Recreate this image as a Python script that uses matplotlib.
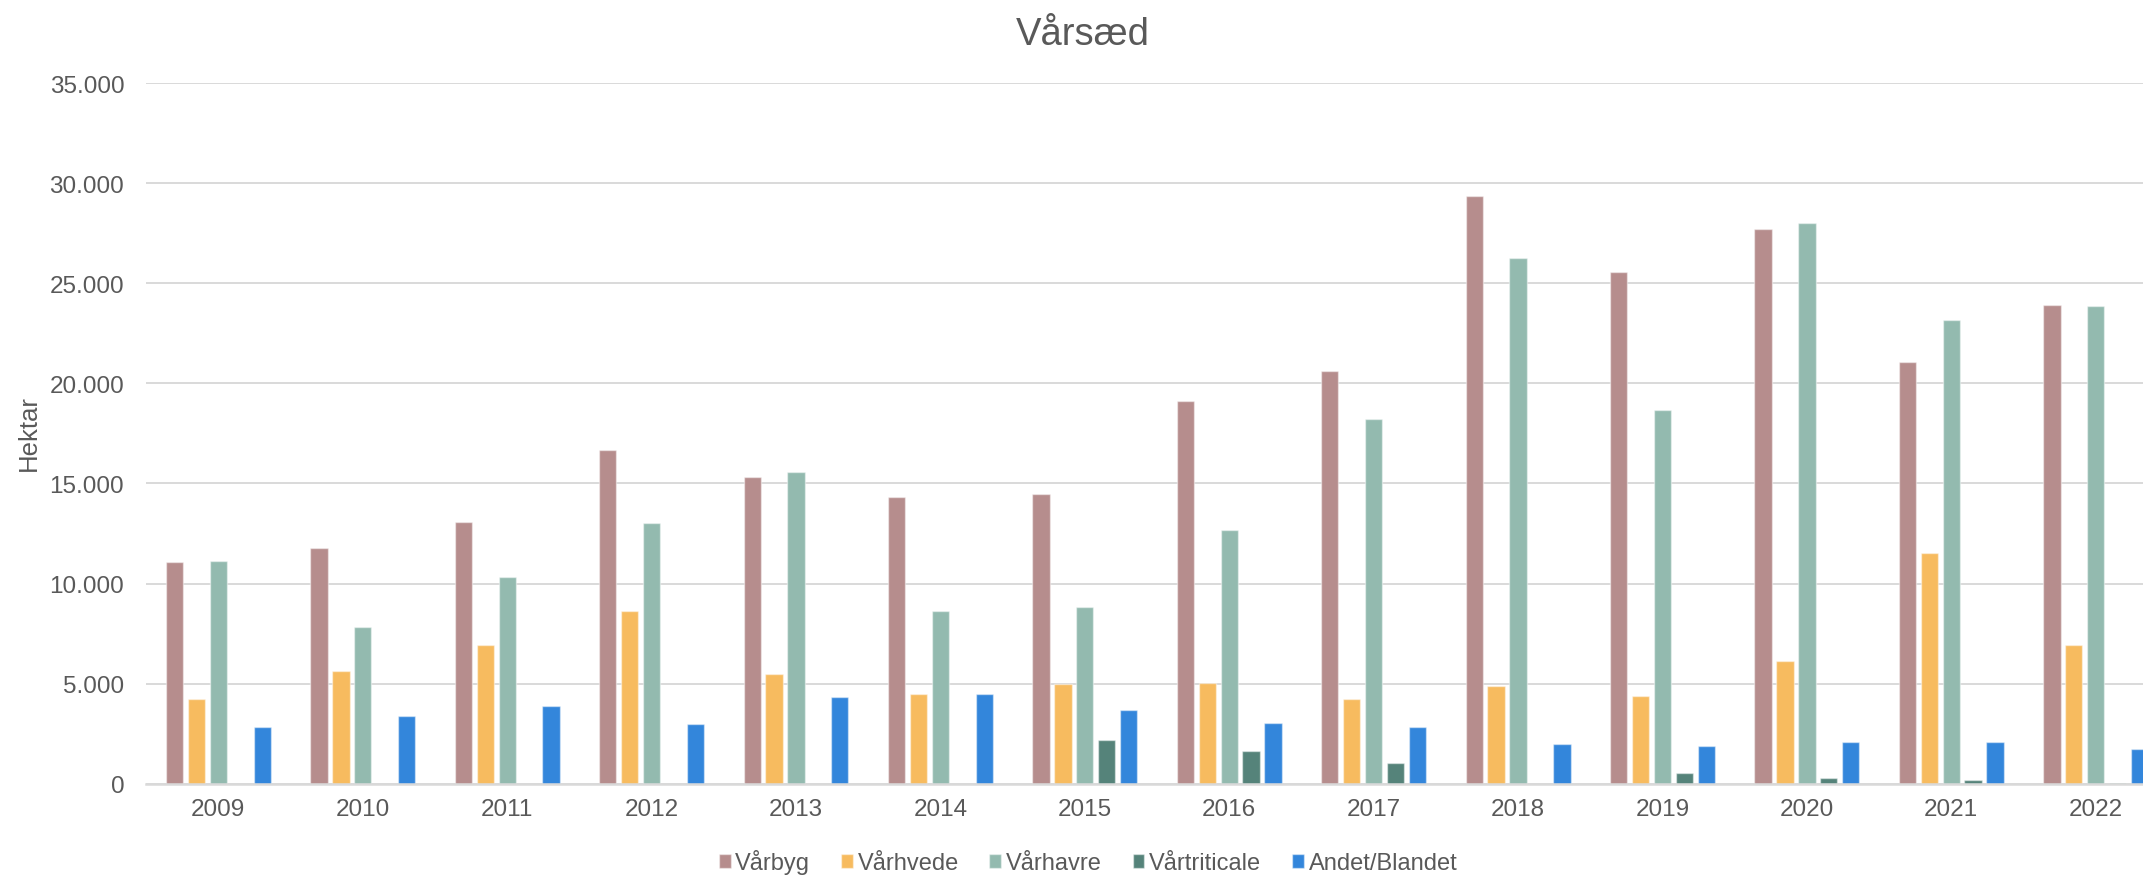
import numpy as np
import matplotlib.pyplot as plt
from matplotlib.ticker import FuncFormatter

plt.rcParams['font.family'] = ['Liberation Sans', 'DejaVu Sans']

years = ["2009", "2010", "2011", "2012", "2013", "2014", "2015",
         "2016", "2017", "2018", "2019", "2020", "2021", "2022"]

# Hektar per afgrøde
vaarbyg = [11090, 11790, 13100, 16690, 15340, 14310, 14480,
           19120, 20640, 29370, 25560, 27720, 21060, 23940]
vaarhvede = [4230, 5630, 6920, 8620, 5490, 4480, 4960,
             5010, 4230, 4900, 4370, 6130, 11540, 6920]
vaarhavre = [11110, 7810, 10330, 13050, 15570, 8650, 8820,
             12660, 18230, 26260, 18680, 28000, 23180, 23860]
vaartriticale = [0, 0, 0, 0, 0, 0, 2210,
                 1650, 1060, 0, 560, 280, 200, 50]
andet = [2860, 3390, 3890, 2970, 4340, 4480, 3700,
         3050, 2820, 1990, 1880, 2070, 2100, 1740]

series = [
    ("Vårbyg", vaarbyg, "#B68D8D"),
    ("Vårhvede", vaarhvede, "#F7BB5F"),
    ("Vårhavre", vaarhavre, "#93BAAF"),
    ("Vårtriticale", vaartriticale, "#55837A"),
    ("Andet/Blandet", andet, "#3386DB"),
]

text_col = "#595959"
grid_col = "#D9D9D9"

fig = plt.figure(figsize=(21.43, 8.79), dpi=100)
# plot area runs slightly past the right edge, as in the original
ax = fig.add_axes([0.0682, 0.1072, 0.9434, 0.7971])

x = np.arange(len(years))
slot = 0.1517
width = 0.12
for i, (name, vals, col) in enumerate(series):
    ax.bar(x + (i - 2) * slot, vals, width, color=col, label=name,
           edgecolor=(1, 1, 1, 0.45), linewidth=1.0, zorder=3)

ax.set_xlim(-0.5, len(years) - 0.5)
ax.set_ylim(0, 35000)
ax.set_yticks(np.arange(0, 35001, 5000))
ax.yaxis.set_major_formatter(FuncFormatter(lambda v, p: f"{int(v):,}".replace(",", ".")))
ax.set_xticks(x)
ax.set_xticklabels(years)

ax.grid(axis="y", color=grid_col, linewidth=1.4, zorder=0)
ax.set_axisbelow(True)
for s in ["top", "right", "left"]:
    ax.spines[s].set_visible(False)
ax.spines["bottom"].set_color(grid_col)
ax.spines["bottom"].set_linewidth(1.8)
ax.spines["bottom"].set_zorder(4)

ax.tick_params(axis="y", length=0, pad=15.8, labelsize=17.5, labelcolor=text_col)
ax.tick_params(axis="x", length=0, pad=10.5, labelsize=17.5, labelcolor=text_col)

fig.text(0.5054, 0.9488, "Vårsæd", ha="center", va="baseline",
         fontsize=27.5, color=text_col)
fig.text(29 / 2143, 0.5074, "Hektar", ha="center", va="center",
         rotation=90, fontsize=18.5, color=text_col)

leg = fig.legend(loc="center", bbox_to_anchor=(0.5077, 0.0185), ncol=5,
                 frameon=False, fontsize=17, handlelength=0.5,
                 handleheight=0.5, handletextpad=0.2, columnspacing=1.3)
for t in leg.get_texts():
    t.set_color(text_col)

fig.savefig("out.png", dpi=100)
